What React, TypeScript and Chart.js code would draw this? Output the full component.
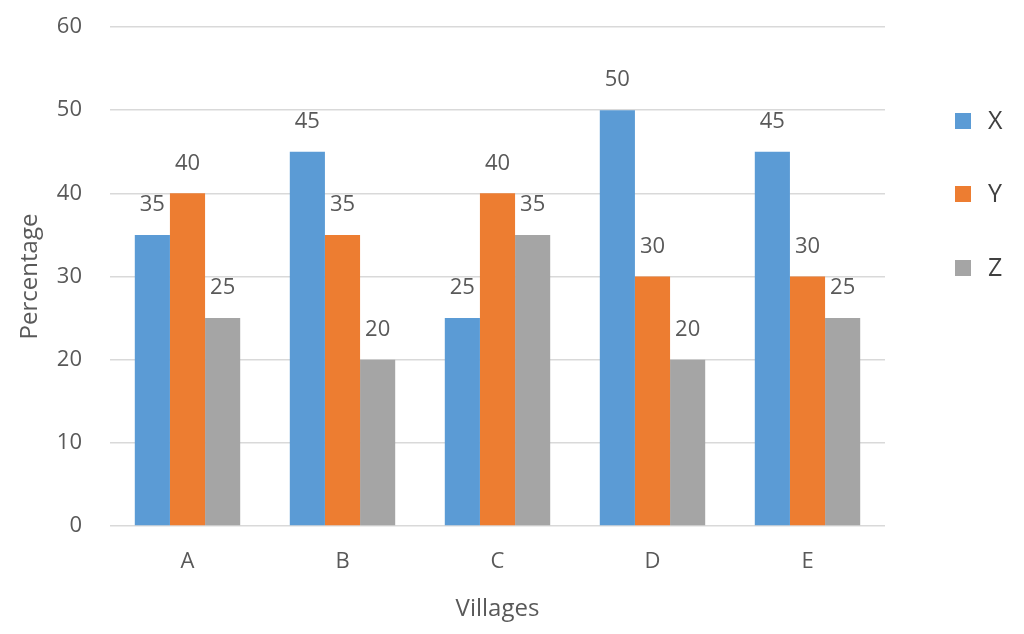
import React, { useEffect, useRef } from "react";
import { Chart, registerables } from "chart.js";

Chart.register(...registerables);

const categories = ["A", "B", "C", "D", "E"];
const seriesX = [35, 45, 25, 50, 45];
const seriesY = [40, 35, 40, 30, 30];
const seriesZ = [25, 20, 35, 20, 25];
const seriesNames = ["X", "Y", "Z"];
const colors = ["#5b9bd5", "#ed7d31", "#a5a5a5"];

const FONT = "'Open Sans', 'DejaVu Sans', sans-serif";

const labelPlugin = {
  id: "barLabels",
  afterDatasetsDraw(chart: any) {
    const ctx = chart.ctx;
    ctx.save();
    ctx.font = `22px ${FONT}`;
    ctx.fillStyle = "#595959";
    ctx.textAlign = "center";
    ctx.textBaseline = "middle";
    chart.data.datasets.forEach((ds: any, i: number) => {
      const meta = chart.getDatasetMeta(i);
      meta.data.forEach((bar: any, j: number) => {
        ctx.fillText(String(ds.data[j]), bar.x, bar.y - 30);
      });
    });
    ctx.restore();
  },
};

const legendPlugin = {
  id: "sideLegend",
  afterDraw(chart: any) {
    const ctx = chart.ctx;
    const ys = [121, 194, 268];
    ctx.save();
    ctx.font = `25px ${FONT}`;
    ctx.textBaseline = "middle";
    ctx.textAlign = "left";
    chart.data.datasets.forEach((ds: any, i: number) => {
      const y = ys[i];
      ctx.fillStyle = ds.backgroundColor;
      ctx.fillRect(955, y - 8, 16, 16);
      ctx.fillStyle = "#404040";
      ctx.fillText(ds.label, 988, y + 1);
    });
    ctx.restore();
  },
};

export default function App() {
  const ref = useRef<HTMLCanvasElement>(null);
  useEffect(() => {
    document.body.style.margin = "0";
    const chart = new Chart(ref.current!, {
      type: "bar",
      data: {
        labels: categories,
        datasets: [seriesX, seriesY, seriesZ].map((d, i) => ({
          label: seriesNames[i],
          data: d,
          backgroundColor: colors[i],
          categoryPercentage: 0.68,
          barPercentage: 1.0,
        })),
      },
      options: {
        animation: false,
        responsive: false,
        layout: { padding: { top: 27, right: 139, left: 0, bottom: 0 } },
        plugins: { legend: { display: false }, tooltip: { enabled: false } },
        scales: {
          x: {
            grid: { display: false, drawTicks: false },
            border: { display: false },
            ticks: { color: "#595959", font: { family: FONT, size: 22 }, padding: 23 },
            title: {
              display: true,
              text: "Villages",
              color: "#595959",
              font: { family: FONT, size: 24 },
              padding: { top: 0, bottom: 10 },
            },
            afterFit: (s: any) => {
              s.height = 108;
              s.paddingLeft = 0;
              s.paddingRight = 0;
            },
          },
          y: {
            min: 0,
            max: 60,
            ticks: { stepSize: 10, color: "#595959", font: { family: FONT, size: 22 }, padding: 28 },
            grid: { color: "#d9d9d9", drawTicks: false, lineWidth: 1.5 },
            border: { display: false },
            title: {
              display: true,
              text: "Percentage",
              color: "#595959",
              font: { family: FONT, size: 24 },
              padding: { top: 16, bottom: 0 },
            },
            afterFit: (s: any) => {
              s.width = 110;
              s.paddingTop = 0;
              s.paddingBottom = 0;
            },
          },
        },
      },
      plugins: [labelPlugin, legendPlugin],
    });
    return () => chart.destroy();
  }, []);
  return (
    <div style={{ width: 1024, height: 634 }}>
      <canvas ref={ref} width={1024} height={634} />
    </div>
  );
}
